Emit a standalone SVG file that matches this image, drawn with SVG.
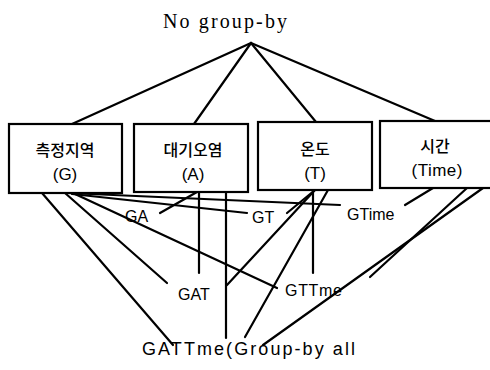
<svg xmlns="http://www.w3.org/2000/svg" width="490" height="370" viewBox="0 0 490 370">
<style>
.box{fill:#fff;stroke:#000;stroke-width:2.2}
.kr{font-family:"Noto Sans CJK KR","Noto Sans",sans-serif;font-size:16px;font-weight:500;text-anchor:middle;fill:#000}
.lb{font-family:"Liberation Sans",Arial,sans-serif;font-size:16px;fill:#000}
.big{font-size:18px}
.pl{font-family:"Liberation Sans",Arial,sans-serif;font-size:17px;text-anchor:middle;fill:#000}
.cn line{stroke:#000;stroke-width:2.2;stroke-linecap:round}
</style>
<rect width="490" height="370" fill="#fff"/>
<g id="connectors" class="cn">
<line x1="251" y1="43" x2="72" y2="124"/>
<line x1="251" y1="43" x2="194" y2="124"/>
<line x1="251" y1="43" x2="316" y2="122"/>
<line x1="251" y1="43" x2="435" y2="121"/>
<line x1="42" y1="193" x2="173" y2="345"/>
<line x1="65" y1="193" x2="167" y2="283"/>
<line x1="75" y1="194" x2="277" y2="288"/>
<line x1="68" y1="193" x2="340" y2="205"/>
<line x1="72" y1="194" x2="247" y2="213"/>
<line x1="197" y1="192" x2="160" y2="213"/>
<line x1="199" y1="192" x2="199" y2="273"/>
<line x1="226" y1="192" x2="226" y2="338"/>
<line x1="315" y1="190" x2="287" y2="213"/>
<line x1="315" y1="190" x2="227" y2="285"/>
<line x1="313" y1="190" x2="313" y2="273"/>
<line x1="328" y1="190" x2="245" y2="337"/>
<line x1="433" y1="188" x2="405" y2="205"/>
<line x1="467" y1="188" x2="370" y2="277"/>
<line x1="483" y1="188" x2="263" y2="345"/>
</g>
<g id="top"><text x="225" y="28" font-family="'Liberation Serif',serif" font-size="20" text-anchor="middle" textLength="124" lengthAdjust="spacing">No group-by</text></g>
<g id="nodeG"><rect class="box" x="9" y="124" width="113" height="69"/><text class="kr" x="65" y="156">측정지역</text><text class="pl" x="65" y="180">(G)</text></g>
<g id="nodeA"><rect class="box" x="134" y="124" width="114" height="68"/><text class="kr" x="193" y="156">대기오염</text><text class="pl" x="193" y="180">(A)</text></g>
<g id="nodeT"><rect class="box" x="258" y="122" width="114" height="68"/><text class="kr" x="315" y="155">온도</text><text class="pl" x="315" y="179">(T)</text></g>
<g id="nodeTime"><rect class="box" x="380" y="121" width="116" height="67"/><text class="kr" x="435" y="152">시간</text><text class="pl" x="437" y="176" textLength="51" lengthAdjust="spacing">(Time)</text></g>
<g id="GA"><text class="lb" x="125" y="222">GA</text></g>
<g id="GT"><text class="lb" x="252" y="223">GT</text></g>
<g id="GTime"><text class="lb" x="347" y="220">GTime</text></g>
<g id="GAT"><text class="lb" x="178" y="300">GAT</text></g>
<g id="GTTme"><text class="lb" x="285" y="296" textLength="57" lengthAdjust="spacing">GTTme</text></g>
<g id="GATTme"><text class="lb big" x="142" y="355" textLength="213" lengthAdjust="spacing">GATTme(Group-by all</text></g>
</svg>
